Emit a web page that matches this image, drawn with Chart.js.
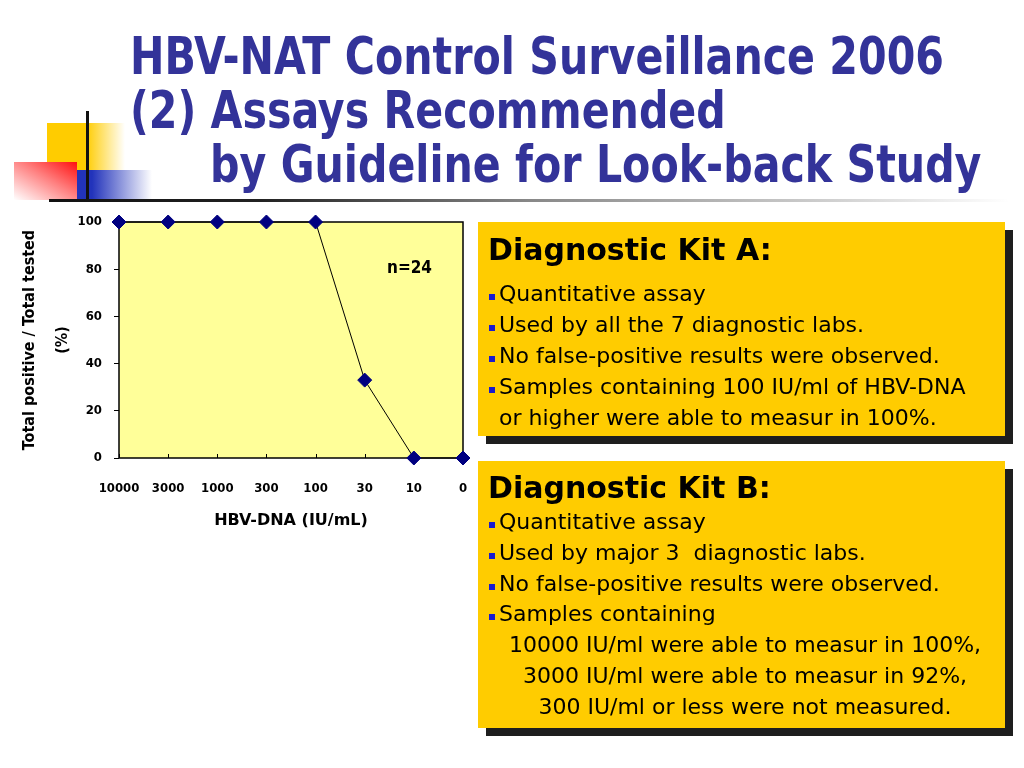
<!DOCTYPE html>
<html>
<head>
<meta charset="utf-8">
<script src="https://cdn.jsdelivr.net/npm/chart.js@4"></script>
<style>
  body { margin: 0; background: #fff; }
  #slide { position: relative; width: 1024px; height: 768px; overflow: hidden; background: #fff; }
  .deco { position: absolute; }
  #title {
    position: absolute; left: 130px; top: 29px;
    font-family: "DejaVu Sans Condensed", "DejaVu Sans", sans-serif;
    font-weight: bold; font-size: 52px; line-height: 54px; color: #333399;
    white-space: nowrap; transform: scaleX(0.88); transform-origin: 0 0;
  }
  .box {
    position: absolute; left: 478px; width: 527px;
    background: #FFCC00; box-shadow: 8px 8px 0 #1e1e1e;
    font-family: "DejaVu Sans", sans-serif;
    color: #000; font-size: 22px; line-height: 31px; white-space: nowrap;
    box-sizing: border-box; padding-left: 11px;
  }
  .box h2 { margin: 0; font-size: 30px; font-weight: bold; margin-left: -1px; }
  .bl { display: inline-block; width: 6px; height: 6px; background: #1a1acc; margin-right: 4px; vertical-align: 1px; }
  #chartWrap { position: absolute; left: 0; top: 205px; width: 480px; height: 340px; }
  #nlabel {
    position: absolute; left: 387px; top: 257px;
    font-family: "DejaVu Sans Condensed", sans-serif;
    font-weight: bold; font-size: 17px;
  }
</style>
</head>
<body>
<div id="slide">
  <div class="deco" style="left:47px;top:123px;width:78px;height:47px;background:linear-gradient(to right,#FFCC00 0%,#FFCC00 50%,rgba(255,204,0,0) 100%);"></div>
  <div class="deco" style="left:14px;top:162px;width:63px;height:38px;background:linear-gradient(to bottom left,#ff1010 0%,#ff8080 45%,#fff 100%);"></div>
  <div class="deco" style="left:77px;top:170px;width:75px;height:29px;background:linear-gradient(to right,#2233bb 0%,#2233bb 20%,rgba(34,51,187,0) 100%);"></div>
  <div class="deco" style="left:86px;top:111px;width:3px;height:90px;background:#111;"></div>
  <div class="deco" style="left:49px;top:199px;width:960px;height:3px;background:linear-gradient(to right,#111 0%,#222 22%,#888 50%,#ccc 80%,#fff 100%);"></div>

  <div id="title">
    <div>HBV-NAT Control Surveillance 2006</div>
    <div>(2) Assays Recommended</div>
    <div style="padding-left:91px">by Guideline for Look-back Study</div>
  </div>

  <div id="chartWrap"><canvas id="myChart"></canvas></div>
  <div id="nlabel">n=24</div>

  <div class="box" style="top:222px;height:214px;padding-top:4px;">
    <h2 style="line-height:48px;margin-bottom:4px;">Diagnostic Kit A:</h2>
    <div><span class="bl"></span>Quantitative assay</div>
    <div><span class="bl"></span>Used by all the 7 diagnostic labs.</div>
    <div><span class="bl"></span>No false-positive results were observed.</div>
    <div><span class="bl"></span>Samples containing 100 IU/ml of HBV-DNA</div>
    <div style="padding-left:10px">or higher were able to measur in 100%.</div>
  </div>

  <div class="box" style="top:461px;height:267px;padding-top:8px;line-height:30.8px;">
    <h2 style="line-height:38px;">Diagnostic Kit B:</h2>
    <div><span class="bl"></span>Quantitative assay</div>
    <div><span class="bl"></span>Used by major 3&nbsp; diagnostic labs.</div>
    <div><span class="bl"></span>No false-positive results were observed.</div>
    <div><span class="bl"></span>Samples containing</div>
    <div style="text-align:center;padding-right:4px">10000 IU/ml were able to measur in 100%,</div>
    <div style="text-align:center;padding-right:4px">3000 IU/ml were able to measur in 92%,</div>
    <div style="text-align:center;padding-right:4px">300 IU/ml or less were not measured.</div>
  </div>
</div>

<script>
const categories = ['10000', '3000', '1000', '300', '100', '30', '10', '0'];
const positiveRate = [100, 100, 100, 100, 100, 33, 0, 0];
const yTicks = [0, 20, 40, 60, 80, 100];

const narrow = '"DejaVu Sans Condensed", sans-serif';

// yellow plot background, black frame and inward x tick marks
const plotFrame = {
  id: 'plotFrame',
  beforeDatasetsDraw(chart) {
    const a = chart.chartArea;
    const c = chart.ctx;
    const xs = chart.scales.x;
    c.save();
    c.fillStyle = '#FFFF99';
    c.fillRect(a.left, a.top, a.right - a.left, a.bottom - a.top);
    c.strokeStyle = '#000';
    c.lineWidth = 1.5;
    c.strokeRect(a.left, a.top, a.right - a.left, a.bottom - a.top);
    c.lineWidth = 1;
    c.beginPath();
    xs.ticks.forEach((t, i) => {
      const px = Math.round(xs.getPixelForTick(i)) + 0.5;
      c.moveTo(px, a.bottom);
      c.lineTo(px, a.bottom - 4);
    });
    c.stroke();
    c.restore();
  }
};

const ctx = document.getElementById('myChart');

const chrt = new Chart(ctx, {
  type: 'line',
  data: {
    labels: categories,
    datasets: [
      {
        label: 'HBV-DNA',
        data: positiveRate,
        borderWidth: 1,
        borderColor: '#000',
        backgroundColor: '#000080',
        pointBackgroundColor: '#000080',
        pointBorderColor: '#000080',
        pointStyle: 'rectRot',
        pointRadius: 7,
        tension: 0,
        clip: false
      }
    ]
  },
  options: {
    maintainAspectRatio: false,
    responsive: true,
    animation: false,
    layout: { padding: { left: 0, right: 17, top: 17, bottom: 0 } },
    plugins: {
      legend: { display: false },
      tooltip: { enabled: false }
    },
    scales: {
      x: {
        offset: false,
        border: { display: false },
        grid: { display: false, drawTicks: false },
        ticks: {
          color: '#000',
          padding: 23,
          maxRotation: 0,
          autoSkip: false,
          font: { family: narrow, size: 13, weight: 'bold' }
        },
        title: {
          display: true,
          text: 'HBV-DNA (IU/mL)',
          color: '#000',
          padding: { top: 0, bottom: 15 },
          font: { family: '"DejaVu Sans", sans-serif', size: 16, weight: 'bold' }
        },
        afterFit(scale) {
          scale.height = 87;
          scale.paddingLeft = 0;
          scale.paddingRight = 0;
        }
      },
      y: {
        min: 0,
        max: 100,
        border: { display: false },
        grid: { drawOnChartArea: false, tickLength: 5, color: '#000' },
        afterBuildTicks(scale) { scale.ticks = yTicks.map(v => ({ value: v })); },
        ticks: {
          color: '#000',
          padding: 12,
          font: { family: narrow, size: 13, weight: 'bold' }
        },
        title: {
          display: true,
          text: ['Total positive / Total tested', '(%)'],
          color: '#000',
          padding: { top: 13, bottom: 0 },
          font: { family: narrow, size: 16, weight: 'bold', lineHeight: 2.06 }
        },
        afterFit(scale) {
          scale.width = 119;
          scale.paddingTop = 0;
          scale.paddingBottom = 0;
        }
      }
    }
  },
  plugins: [plotFrame]
});
</script>
</body>
</html>
